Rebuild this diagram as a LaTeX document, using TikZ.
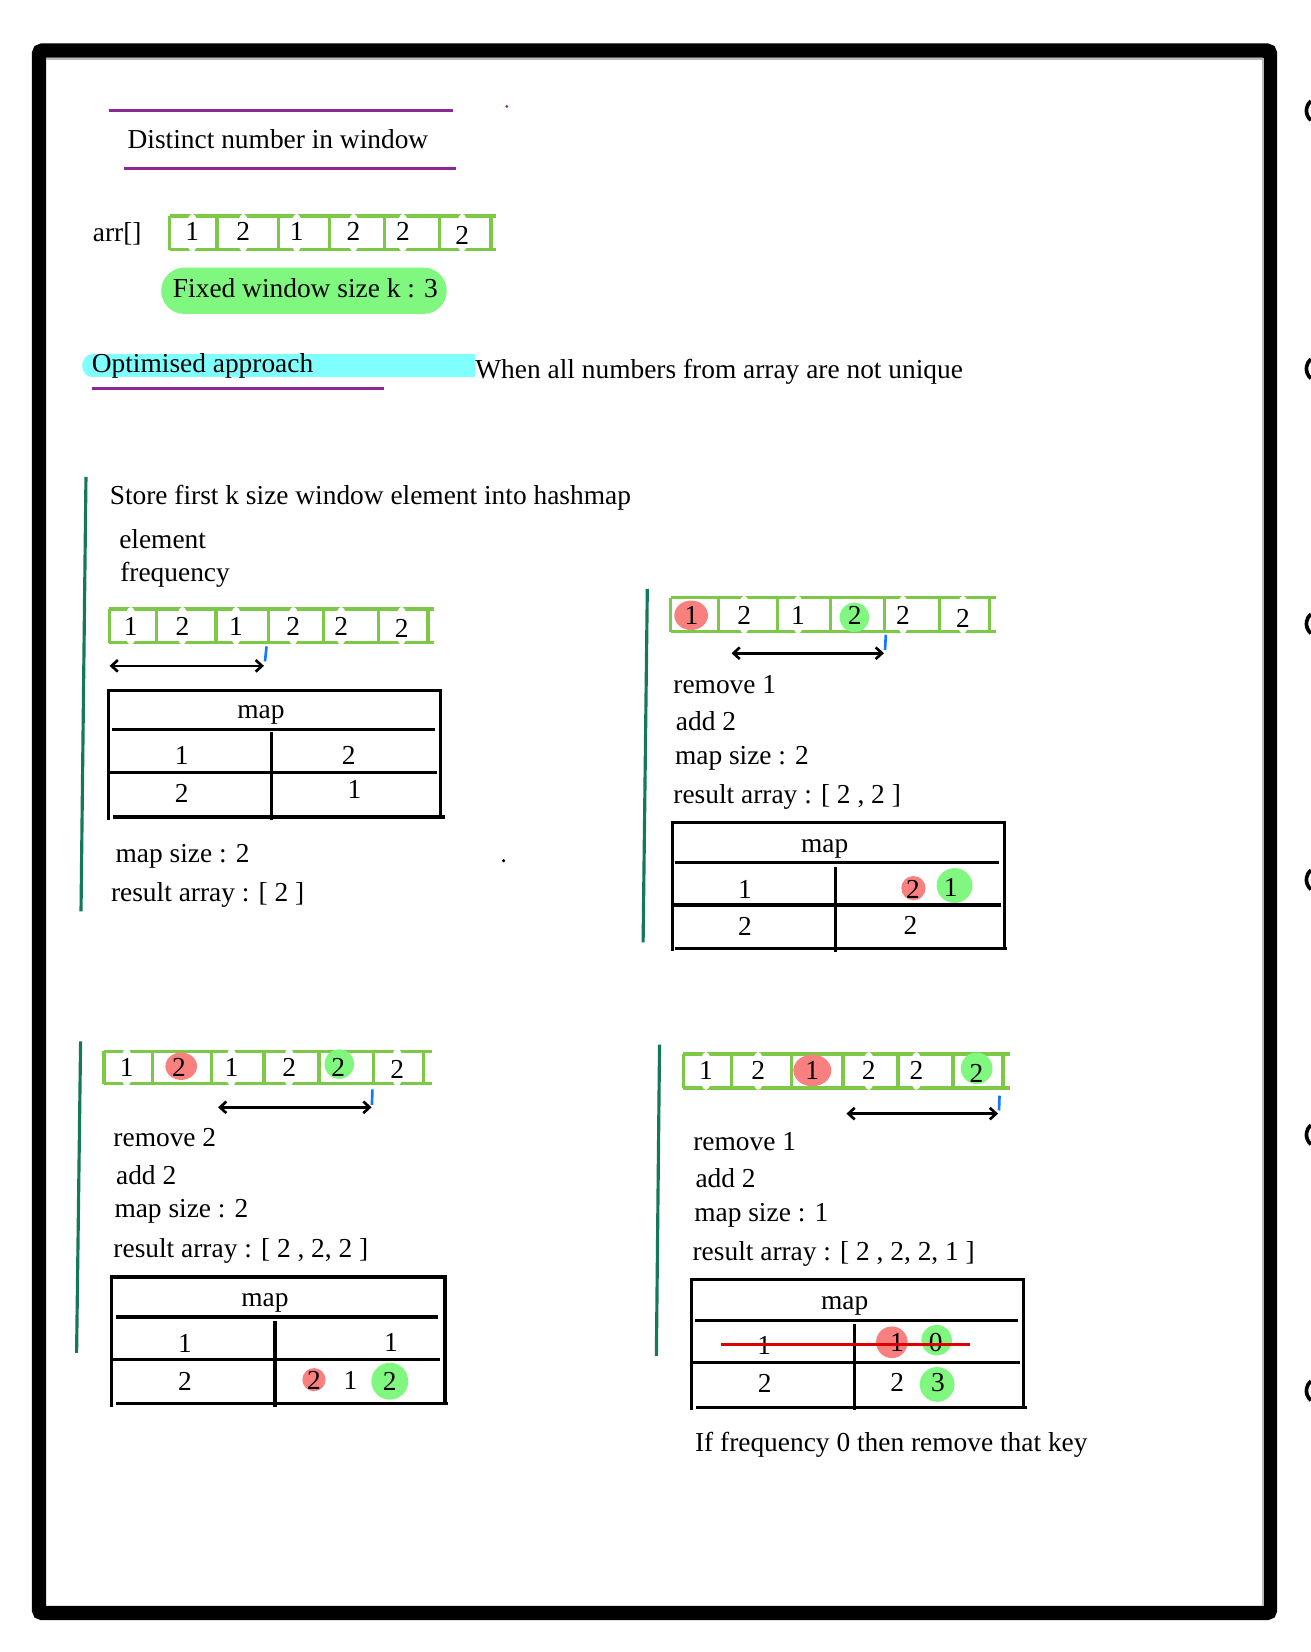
\documentclass[tikz,border=0pt]{standalone}
\usepackage{fontspec}
\setmainfont{Liberation Serif}
\usetikzlibrary{arrows.meta}
\definecolor{purp}{RGB}{140,40,150}
\definecolor{arrg}{RGB}{125,200,70}
\definecolor{hlg}{RGB}{128,248,128}
\definecolor{hlr}{RGB}{250,128,128}
\definecolor{hlc}{RGB}{128,255,255}
\definecolor{pang}{RGB}{20,120,90}
\definecolor{tickb}{RGB}{20,120,255}
\definecolor{strike}{RGB}{220,0,0}
\newcommand\myarr[5]{%
  \draw[arrline] (#3,#1) -- (#5,#1) (#3,#2) -- (#5,#2);
  \foreach \xx in {#4} {\draw[arrline] (\xx,#1) -- (\xx,#2);}}
\newcommand\halo[2]{\fill[white] (#1,#2) ellipse [x radius=6, y radius=18];}
\begin{document}
\begin{tikzpicture}[x=1pt,y=-1pt,
  font=\fontsize{26}{30}\selectfont,
  txt/.style={anchor=base west, inner sep=0pt},
  dig/.style={anchor=base, inner sep=0pt},
  arrline/.style={draw=arrg, line width=3pt},
  tabline/.style={draw=black, line width=3pt},
  purpline/.style={draw=purp, line width=3pt},
  panelline/.style={draw=pang, line width=3pt},
  tickline/.style={draw=tickb, line width=2.5pt},
  dblarrow/.style={line width=2.5pt, {Straight Barb[length=6pt,width=11pt]}-{Straight Barb[length=6pt,width=11pt]}},
  strikeline/.style={draw=strike, line width=3pt},
]
\useasboundingbox (0,0) rectangle (1244,1568);
\fill[white] (0,0) rectangle (1244,1568);

% frame
\draw[line width=13.5pt, rounded corners=3pt] (37,48) rectangle (1205.5,1531);
\draw[gray!55, line width=1.5pt] (44,56) -- (1198.5,56) -- (1198.5,1524);
\foreach \yy in {105,350,592,835,1077,1320}
  \draw[line width=3.5pt] ([shift={(130:12)}]1252,\yy) arc[start angle=130,end angle=230,radius=12];

% title
\draw[purpline] (103,105) -- (430,105);
\node[txt] (title) at (121,141) {Distinct number in window};
\draw[purpline] (118,160) -- (433,160);
\fill[purp] (481,101) circle (1.5);

% main array
\node[txt] (arrlbl) at (88,229) {arr[]};
\myarr{205}{237}{161}{161,206,264,313,365,417,466}{471}
\foreach \xx in {182.5,230.9,281.6,335.6,382.4,438.7} {\halo{\xx}{221}}
\node[dig] (a0d1) at (182.5,228.4) {1};
\node[dig] (a0d2) at (230.9,228.4) {2};
\node[dig] (a0d3) at (281.6,228.4) {1};
\node[dig] (a0d4) at (335.6,228.4) {2};
\node[dig] (a0d5) at (382.4,228.4) {2};
\node[dig] (a0d6) at (438.7,232) {2};

\fill[hlg, rounded corners=22pt] (153,254) rectangle (424,298);
\node[txt] (fixed) at (164,282.5) {Fixed window size k : 3};

\fill[hlc] (88,336) rectangle (451,358);
\fill[hlc] (88,347) ellipse [x radius=10, y radius=11];
\node[txt] (opt) at (87,354) {Optimised approach};
\draw[purpline] (87,369) -- (364,369);
\node[txt] (when) at (451,359) {When all numbers from array are not unique};

% ---------------- panel 1
\draw[panelline] (81.6,452.6) -- (76.9,865);
\node[txt] (p1store) at (104,479) {Store first k size window element into hashmap};
\node[txt] (p1elem) at (113,521) {element};
\node[txt] (p1freq) at (114,552) {frequency};
\myarr{578}{610}{103.6}{103.6,148.4,205,254.9,306.8,359,406.3}{412}
\foreach \xx in {124.1,173.2,224,278.4,323.8,381.2} {\halo{\xx}{594}}
\node[dig] (a1d1) at (124.1,603) {1};
\node[dig] (a1d2) at (173.2,603) {2};
\node[dig] (a1d3) at (224,603) {1};
\node[dig] (a1d4) at (278.4,603) {2};
\node[dig] (a1d5) at (323.8,603) {2};
\node[dig] (a1d6) at (381.2,605.5) {2};
\draw[tickline] (253,613.6) -- (251.5,627.8);
\coordinate (ar1l) at (104,632);
\coordinate (ar1r) at (250.5,632);
\draw[dblarrow] (ar1l) -- (ar1r);
% table 1
\draw[tabline] (103,655) -- (418,655) -- (418,776);
\draw[tabline] (103,653.5) -- (103,778);
\draw[tabline] (106,692.5) -- (413,692.5);
\draw[tabline] (258,695) -- (258,778);
\draw[tabline] (103,733) -- (415,733);
\draw[tabline] (107,775.5) -- (422,775.5);
\node[dig] (t1map) at (247.6,682) {map};
\node[dig] (t1k1) at (172.4,726) {1};
\node[dig] (t1v1) at (331,726) {2};
\node[dig] (t1k2) at (172.4,762) {2};
\node[dig] (t1v2) at (336.5,758) {1};
\node[txt] (p1size) at (109.6,818.6) {map size : 2};
\node[txt] (p1res) at (105.2,855.5) {result array : [ 2 ]};
\fill (478,817) circle (1.6);

% ---------------- panel 2
\draw[panelline] (614.4,559) -- (610.4,894.5);
\myarr{567.5}{599.4}{636.4}{636.4,682.3,737.9,788.2,839.7,891.9,939.4}{945.7}
\foreach \xx in {706.3,757.5,857.1,914} {\halo{\xx}{583.5}}
\fill[hlr] (656,584) ellipse [x radius=16, y radius=14];
\fill[hlg] (811,586) circle (14);
\node[dig] (a2d1) at (656.3,593) {1};
\node[dig] (a2d2) at (706.3,593) {2};
\node[dig] (a2d3) at (757.5,593) {1};
\node[dig] (a2d4) at (811.3,593) {2};
\node[dig] (a2d5) at (857.1,593) {2};
\node[dig] (a2d6) at (914,595.5) {2};
\draw[tickline] (840.8,602.5) -- (840,616.8);
\coordinate (ar2l) at (694.3,620);
\coordinate (ar2r) at (839,620);
\draw[dblarrow] (ar2l) -- (ar2r);
\node[txt] (p2rem) at (639,657.9) {remove 1};
\node[txt] (p2add) at (641.4,693.6) {add 2};
\node[txt] (p2size) at (640.5,725.2) {map size : 2};
\node[txt] (p2res) at (639,762.2) {result array : [ 2 , 2 ]};
% table 2
\draw[tabline] (638,780.6) -- (953.5,780.6) -- (953.5,900.8);
\draw[tabline] (638,779) -- (638,903);
\draw[tabline] (641,819) -- (948,819);
\draw[tabline] (793,823) -- (793,904);
\draw[tabline] (638,859) -- (950,859);
\draw[tabline] (641,900.5) -- (956,900.5);
\fill[hlr] (867,843) circle (11.5);
\fill[hlg] (906,840.5) ellipse [x radius=17, y radius=16.5];
\node[dig] (t2map) at (782.8,809) {map};
\node[dig] (t2k1) at (707,852.4) {1};
\node[dig] (t2v1a) at (866.6,852.4) {2};
\node[dig] (t2v1b) at (902.4,851) {1};
\node[dig] (t2k2) at (707,888) {2};
\node[dig] (t2v2) at (864.1,887.2) {2};

% ---------------- panel 3
\draw[panelline] (76.5,988.4) -- (72.7,1284.1);
\myarr{998}{1028.5}{98.7}{98.7,144.5,200.9,250.5,302.7,354.2,402.3}{409.6}
\foreach \xx in {120.2,219.8,274.5,377} {\halo{\xx}{1013}}
\fill[hlr] (172,1012) ellipse [x radius=15, y radius=13];
\fill[hlg] (322,1010) circle (14);
\node[dig] (a3d1) at (120.2,1021.6) {1};
\node[dig] (a3d2) at (169.8,1021.6) {2};
\node[dig] (a3d3) at (219.8,1021.6) {1};
\node[dig] (a3d4) at (274.5,1021.6) {2};
\node[dig] (a3d5) at (321,1021.6) {2};
\node[dig] (a3d6) at (377,1024) {2};
\draw[tickline] (353.5,1034) -- (353,1048.6);
\coordinate (ar3l) at (207,1051);
\coordinate (ar3r) at (352.7,1051);
\draw[dblarrow] (ar3l) -- (ar3r);
\node[txt] (p3rem) at (107.5,1088) {remove 2};
\node[txt] (p3add) at (110,1124.4) {add 2};
\node[txt] (p3size) at (108.5,1156) {map size : 2};
\node[txt] (p3res) at (107.5,1194) {result array : [ 2 , 2, 2 ]};
% table 3
\draw[tabline] (106,1212) -- (422.3,1212) -- (422.3,1333);
\draw[tabline] (106,1210.5) -- (106,1335);
\draw[tabline] (110,1250) -- (416,1250);
\draw[tabline] (261,1254) -- (261,1335);
\draw[tabline] (106,1290.5) -- (418,1290.5);
\draw[tabline] (110,1332.5) -- (425,1332.5);
\fill[hlr] (298,1309.5) circle (11);
\fill[hlg] (370,1311) circle (17.5);
\node[dig] (t3map) at (251.5,1239.8) {map};
\node[dig] (t3k1) at (175.5,1283.5) {1};
\node[dig] (t3v1) at (371,1282.5) {1};
\node[dig] (t3k2) at (175.5,1319.5) {2};
\node[dig] (t3v2a) at (298,1319) {2};
\node[dig] (t3v2b) at (332.7,1319) {1};
\node[dig] (t3v2c) at (370,1320) {2};

% ---------------- panel 4
\draw[panelline] (626,991.6) -- (623,1287);
\myarr{1000.4}{1032.7}{648.4}{648.4,694.2,751.2,800.2,852.4,904.6,952}{959}
\foreach \xx in {670,719.6,824.6,869.8} {\halo{\xx}{1016.5}}
\fill[hlr] (771,1016) ellipse [x radius=18, y radius=15];
\fill[hlg] (927,1014) circle (15);
\node[dig] (a4d1) at (670,1025) {1};
\node[dig] (a4d2) at (719.6,1025) {2};
\node[dig] (a4d3) at (770.8,1025) {1};
\node[dig] (a4d4) at (824.6,1025) {2};
\node[dig] (a4d5) at (869.8,1025) {2};
\node[dig] (a4d6) at (926.7,1027.3) {2};
\draw[tickline] (948.7,1040) -- (948.2,1054);
\coordinate (ar4l) at (803.4,1057);
\coordinate (ar4r) at (947.3,1057);
\draw[dblarrow] (ar4l) -- (ar4r);
\node[txt] (p4rem) at (657.9,1091.8) {remove 1};
\node[txt] (p4add) at (660,1127) {add 2};
\node[txt] (p4size) at (658.8,1159.2) {map size : 1};
\node[txt] (p4res) at (657.2,1196.5) {result array : [ 2 , 2, 2, 1 ]};
% table 4
\draw[tabline] (656.3,1214.5) -- (971.6,1214.5) -- (971.6,1336);
\draw[tabline] (656.3,1213) -- (656.3,1338);
\draw[tabline] (659.5,1253.5) -- (966,1253.5);
\draw[tabline] (811.3,1257) -- (811.3,1338);
\draw[tabline] (656,1293.6) -- (968,1293.6);
\draw[tabline] (661,1335.7) -- (975,1335.7);
\fill[hlr] (846.5,1274) circle (15);
\fill[hlg] (889,1272) circle (14.5);
\fill[hlg] (889.5,1314) circle (16.5);
\node[dig] (t4map) at (801.8,1243) {map};
\node[dig] (t4k1) at (725.3,1285.7) {1};
\node[dig] (t4v1a) at (851.4,1282.6) {1};
\node[dig] (t4v1b) at (888.1,1282.6) {0};
\node[dig] (t4k2) at (725.9,1322) {2};
\node[dig] (t4v2a) at (851.7,1320.5) {2};
\node[dig] (t4v2b) at (890.3,1321) {3};
\coordinate (st1) at (684.8,1276.2);
\coordinate (st2) at (921,1276.2);
\draw[strikeline] (st1) -- (st2);
\node[txt] (p4note) at (659.5,1377.4) {If frequency 0 then remove that key};
\end{tikzpicture}
\end{document}
